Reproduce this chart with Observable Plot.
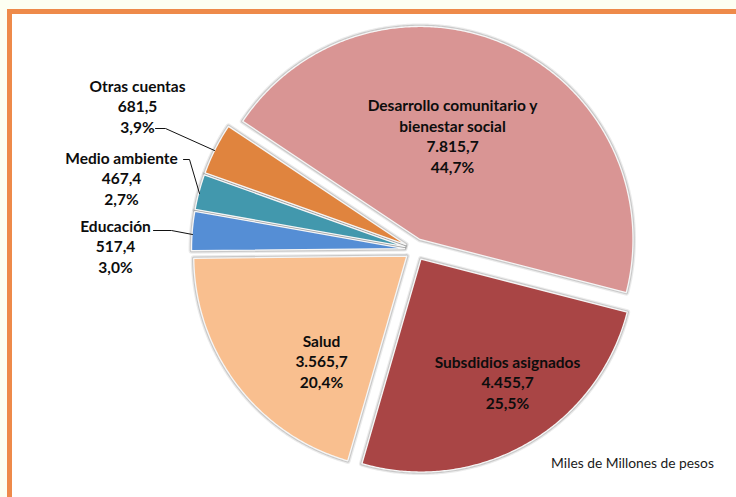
<!DOCTYPE html>
<html>
<head>
<meta charset="utf-8">
<script src="https://cdn.jsdelivr.net/npm/d3@7"></script>
<script src="https://cdn.jsdelivr.net/npm/@observablehq/plot@0.6"></script>
<style>
  html, body { margin: 0; padding: 0; background: #fdfff2; width: 736px; height: 497px; overflow: hidden; }
  #frame { position: absolute; left: 7px; top: 9px; width: 800px; height: 600px; background: #fff;
           border-top: 5px solid #ee8a4a; border-left: 5px solid #ee8a4a; }
  #chart { position: absolute; left: 0; top: 0; }
</style>
</head>
<body>
<div id="frame"></div>
<div id="chart"></div>
<script>
// ---- data ----
const categories = ["Desarrollo comunitario y bienestar social", "Subsdidios asignados", "Salud", "Educación", "Medio ambiente", "Otras cuentas"];
const values = [7815.7, 4455.7, 3565.7, 517.4, 467.4, 681.5];
const percents = [44.7, 25.5, 20.4, 3.0, 2.7, 3.9];
const colors = ["#d99594", "#a94545", "#f9bf8f", "#558ed5", "#4298ad", "#e0843e"];
const unitNote = "Miles de Millones de pesos";

// ---- layout ----
const W = 736, H = 497;
const cx = 415, cy = 249, R = 213, explode = 11, startDeg = -56.3;
const labelPos = [
  {x: 452, y: 135}, {x: 507, y: 381}, {x: 321, y: 360},
  {x: 115, y: 245}, {x: 121, y: 177}, {x: 137, y: 105}
];
const leaders = [
  {i: 5, pts: [[155, 128], [165, 128], [214, 150]]},
  {i: 4, pts: [[183, 159], [189, 159], [199, 193]]},
  {i: 3, pts: [[153, 230], [171, 230], [192, 234]]}
];

const locale = d3.formatLocale({decimal: ",", thousands: ".", grouping: [3]});
const fmtVal = locale.format(",.1f");
const fmtPct = locale.format(".1f");

const total = d3.sum(values);
const slicePts = [];
let acc = 0;
categories.forEach((c, i) => {
  const a0 = (startDeg * Math.PI / 180) + acc / total * 2 * Math.PI;
  acc += values[i];
  const a1 = (startDeg * Math.PI / 180) + acc / total * 2 * Math.PI;
  const mid = (a0 + a1) / 2;
  const ox = cx + explode * Math.sin(mid), oy = cy - explode * Math.cos(mid);
  slicePts.push({key: c, x: ox, y: oy});
  const n = Math.max(2, Math.ceil((a1 - a0) * 180 / Math.PI * 2));
  for (let k = 0; k <= n; k++) {
    const a = a0 + (a1 - a0) * k / n;
    slicePts.push({key: c, x: ox + R * Math.sin(a), y: oy - R * Math.cos(a)});
  }
  slicePts.push({key: c, x: ox, y: oy});
});

const labels = categories.map((c, i) => ({
  key: c,
  text: c.replace("y bienestar", "y\nbienestar") + "\n" + fmtVal(values[i]) + "\n" + fmtPct(percents[i]) + "%",
  x: labelPos[i].x, y: labelPos[i].y
}));

const leaderPts = leaders.flatMap(l => l.pts.map(([x, y]) => ({key: categories[l.i], x, y})));

const chart = Plot.plot({
  width: W, height: H,
  margin: 0,
  style: {background: "transparent", fontFamily: "Lato, sans-serif"},
  x: {domain: [0, W], range: [0, W], axis: null},
  y: {domain: [0, H], range: [0, H], axis: null},
  color: {domain: categories, range: colors},
  marks: [
    // soft shadow halo
    Plot.line(slicePts, {x: "x", y: "y", z: "key", stroke: "#000", strokeOpacity: 0.08, strokeWidth: 6}),
    Plot.line(slicePts, {x: "x", y: "y", z: "key", stroke: "#000", strokeOpacity: 0.14, strokeWidth: 3.6}),
    // slices
    Plot.line(slicePts, {x: "x", y: "y", z: "key", fill: "key", stroke: "#f6f6f6", strokeWidth: 1.3}),
    Plot.line(leaderPts, {x: "x", y: "y", z: "key", stroke: "#111", strokeWidth: 1}),
    Plot.text(labels, {x: "x", y: "y", text: "text", fontWeight: "bold", fontSize: 15.5,
      lineHeight: 1.32, fill: "#0d0d0d", fontFamily: "Lato, sans-serif"}),
    Plot.text([unitNote], {x: () => 632, y: () => 463, text: d => d, fontSize: 13.8, fill: "#1a1a1a",
      fontFamily: "Lato, sans-serif"})
  ]
});
document.getElementById("chart").appendChild(chart);
</script>
</body>
</html>
